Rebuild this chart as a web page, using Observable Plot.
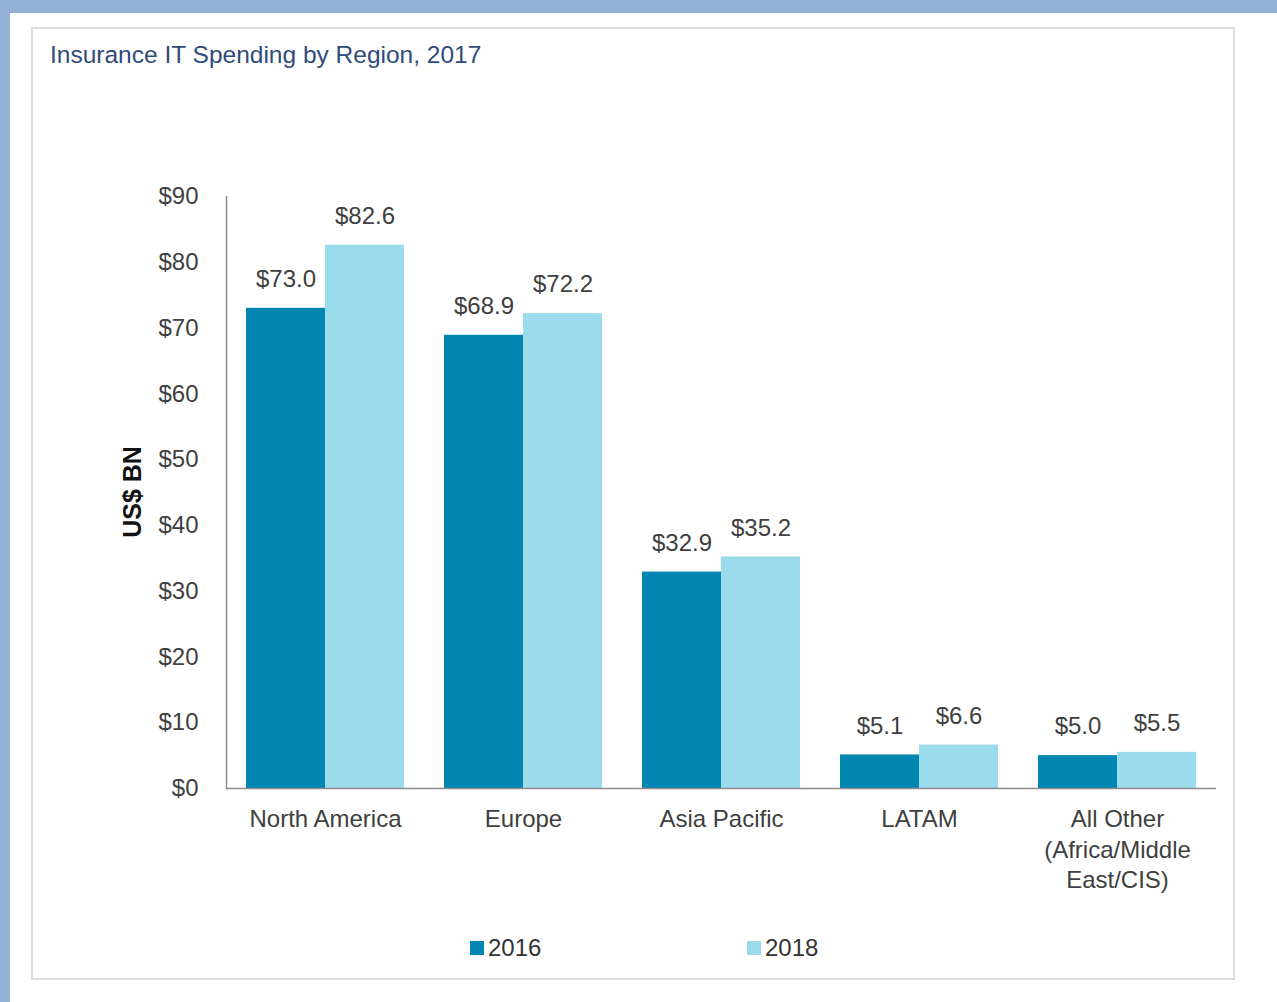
<!DOCTYPE html>
<html>
<head>
<meta charset="utf-8">
<script src="https://cdn.jsdelivr.net/npm/d3@7"></script>
<script src="https://cdn.jsdelivr.net/npm/@observablehq/plot@0.6"></script>
<style>
  html, body { margin: 0; padding: 0; background: #ffffff; }
  body { width: 1277px; height: 1002px; position: relative; overflow: hidden; font-family: "Liberation Sans", Arial, sans-serif; }
  #bandTop { position: absolute; left: 0; top: 0; width: 1277px; height: 13px; background: #93b1d6; }
  #bandLeft { position: absolute; left: 0; top: 0; width: 10px; height: 1002px; background: #93b1d6; }
  #frame { position: absolute; left: 31px; top: 27px; width: 1200px; height: 949px; border: 2px solid #dcdcdc; }
  #title { position: absolute; left: 50px; top: 43px; font-size: 24.5px; line-height: 1; color: #2f4b7c; white-space: nowrap; }
  #ylabel { position: absolute; left: 132px; top: 492px; font-size: 25px; font-weight: bold; color: #111; line-height: 1;
            transform: translate(-50%, -50%) rotate(-90deg); white-space: nowrap; }
  #chart { position: absolute; left: 0; top: 0; }
  .legend { position: absolute; top: 936px; font-size: 24px; line-height: 24px; color: #333; display: flex; align-items: center; white-space: nowrap; }
  .legend span.sw { display: inline-block; width: 14px; height: 14px; margin-right: 4px; }
</style>
</head>
<body>
<div id="bandTop"></div>
<div id="bandLeft"></div>
<div id="frame"></div>
<div id="title">Insurance IT Spending by Region, 2017</div>
<div id="chart"></div>
<div id="ylabel">US$ BN</div>
<div id="legend"></div>
<script>
const regions = ["North America", "Europe", "Asia Pacific", "LATAM", "All Other (Africa/Middle East/CIS)"];
const regionLabels = ["North America", "Europe", "Asia Pacific", "LATAM", "All Other\n(Africa/Middle\nEast/CIS)"];
const years = ["2016", "2018"];
const values2016 = [73.0, 68.9, 32.9, 5.1, 5.0];
const values2018 = [82.6, 72.2, 35.2, 6.6, 5.5];
const yTicks = [0, 10, 20, 30, 40, 50, 60, 70, 80, 90];
const colors = ["#0086b0", "#9adcec"];

const data = [];
regions.forEach((r, i) => {
  data.push({region: r, year: years[0], value: values2016[i]});
  data.push({region: r, year: years[1], value: values2018[i]});
});
const labelOf = new Map(regions.map((r, i) => [r, regionLabels[i]]));

const textColor = "#404040";
const axisColor = "#8c8c8c";

const chart = Plot.plot({
  width: 1277,
  height: 1002,
  marginLeft: 225,
  marginRight: 60,
  marginTop: 196,
  marginBottom: 214,
  style: {fontFamily: "'Liberation Sans', Arial, sans-serif", fontSize: "24px", color: textColor, background: "transparent"},
  fx: {domain: regions, padding: 0},
  x: {domain: years, paddingInner: 0, paddingOuter: 0.25, axis: null},
  y: {domain: [0, 90]},
  color: {domain: years, range: colors},
  marks: [
    Plot.barY(data, {fx: "region", x: "year", y: "value", fill: "year"}),
    Plot.text(data, {fx: "region", x: "year", y: "value", text: d => "$" + d.value.toFixed(1), dy: -29, fontSize: 24, fill: textColor}),
    Plot.ruleY([0], {stroke: axisColor, strokeWidth: 1.5}),
    Plot.frame({anchor: "left", facet: "super", stroke: axisColor, strokeWidth: 1.5}),
    Plot.axisY({ticks: yTicks, tickSize: 0, tickPadding: 28, tickFormat: d => "$" + d, label: null, fontSize: 24, fill: textColor}),
    Plot.axisFx({anchor: "bottom", tickSize: 0, tickPadding: 17, lineHeight: 1.27, tickFormat: d => labelOf.get(d), label: null, fontSize: 24, fill: textColor})
  ]
});
document.getElementById("chart").appendChild(chart);

const legend = document.getElementById("legend");
const legendX = [470, 747];
years.forEach((y, i) => {
  const item = document.createElement("div");
  item.className = "legend";
  item.style.left = legendX[i] + "px";
  item.innerHTML = `<span class="sw" style="background:${colors[i]}"></span>${y}`;
  legend.appendChild(item);
});
</script>
</body>
</html>
